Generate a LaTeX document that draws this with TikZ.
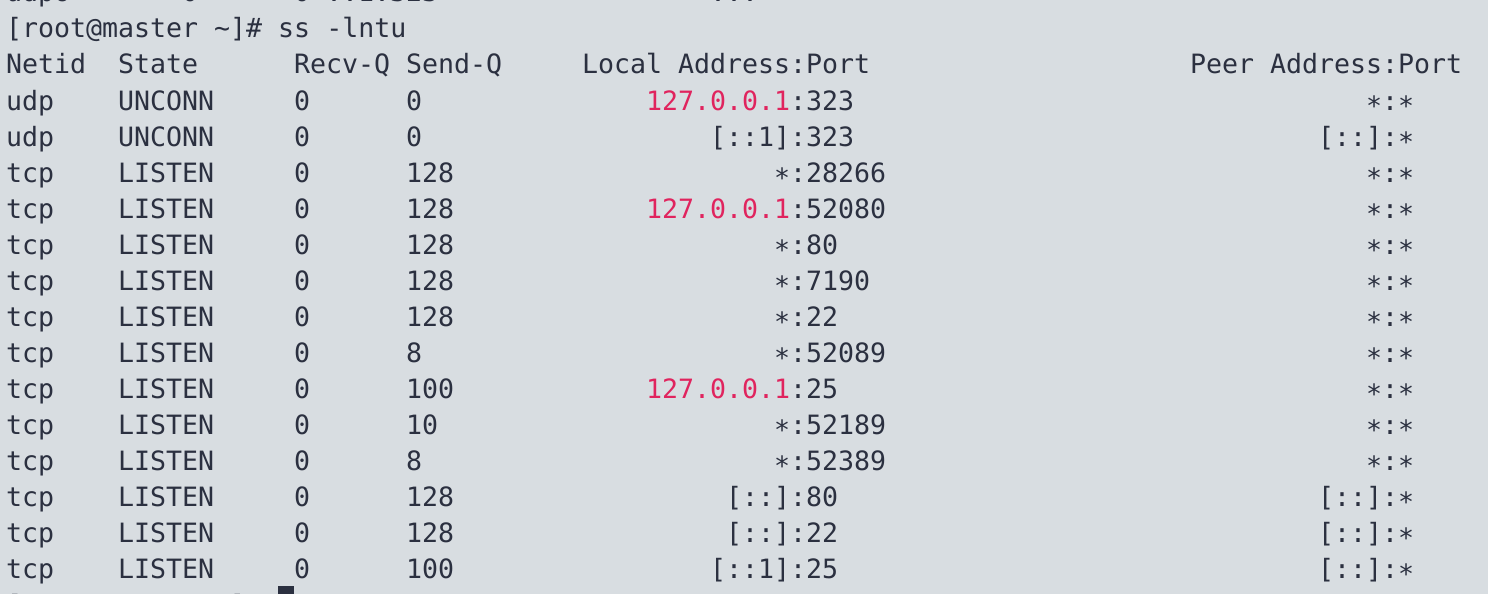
\documentclass[tikz,border=0pt]{standalone}
\usepackage{fontspec}
\setmonofont{DejaVu Sans Mono}
\definecolor{termbg}{HTML}{D8DDE1}
\definecolor{termfg}{HTML}{2B3040}
\definecolor{termred}{HTML}{E0245E}
\newcommand\sstar{\raisebox{-0.2em}{*}}
\newcommand\rip{\textcolor{termred}{127.0.0.1}}
\tikzset{
  txt/.style={anchor=base west, inner sep=0pt, outer sep=0pt, text=termfg,
    font=\ttfamily\fontsize{26.6}{36}\selectfont},
}
\begin{document}
\begin{tikzpicture}[x=1pt,y=-1pt]
\useasboundingbox (0,0) rectangle (1488,594);
\clip (0,0) rectangle (1488,594);
\fill[termbg] (0,0) rectangle (1488,594);
\def\ox{6}
\def\cw{16}
% partial line at the top
\node[txt] (p0) at ({\ox+0*\cw},2) {udp6};
\node[txt] (p1) at ({\ox+11*\cw},2) {0};
\node[txt] (p2) at ({\ox+18*\cw},2) {0};
\node[txt] (p3) at ({\ox+20*\cw},2) {::1:323};
\node[txt] (p4) at ({\ox+44*\cw},2) {:::*};
% command
\node[txt] (cmd) at ({\ox},38) {[root@master \textasciitilde]\# ss -lntu};
% header
\node[txt] (h1) at ({\ox+0*\cw},74) {Netid};
\node[txt] (h2) at ({\ox+7*\cw},74) {State};
\node[txt] (h3) at ({\ox+18*\cw},74) {Recv-Q};
\node[txt] (h4) at ({\ox+25*\cw},74) {Send-Q};
\node[txt] (h5) at ({\ox+36*\cw},74) {Local Address:Port};
\node[txt] (h6) at ({\ox+74*\cw},74) {Peer Address:Port};
% rows
\foreach \k/\net/\st/\rq/\sq/\lc/\la/\pc/\pa in {
  0/udp/UNCONN/0/0/40/\rip:323/85/\sstar:\sstar,
  1/udp/UNCONN/0/0/44/[::1]:323/82/[::]:\sstar,
  2/tcp/LISTEN/0/128/48/\sstar:28266/85/\sstar:\sstar,
  3/tcp/LISTEN/0/128/40/\rip:52080/85/\sstar:\sstar,
  4/tcp/LISTEN/0/128/48/\sstar:80/85/\sstar:\sstar,
  5/tcp/LISTEN/0/128/48/\sstar:7190/85/\sstar:\sstar,
  6/tcp/LISTEN/0/128/48/\sstar:22/85/\sstar:\sstar,
  7/tcp/LISTEN/0/8/48/\sstar:52089/85/\sstar:\sstar,
  8/tcp/LISTEN/0/100/40/\rip:25/85/\sstar:\sstar,
  9/tcp/LISTEN/0/10/48/\sstar:52189/85/\sstar:\sstar,
  10/tcp/LISTEN/0/8/48/\sstar:52389/85/\sstar:\sstar,
  11/tcp/LISTEN/0/128/45/[::]:80/82/[::]:\sstar,
  12/tcp/LISTEN/0/128/45/[::]:22/82/[::]:\sstar,
  13/tcp/LISTEN/0/100/44/[::1]:25/82/[::]:\sstar}{
  \pgfmathsetmacro\yy{110+36*\k}
  \node[txt] (r\k-net) at ({\ox+0*\cw},\yy) {\net};
  \node[txt] (r\k-st) at ({\ox+7*\cw},\yy) {\st};
  \node[txt] (r\k-rq) at ({\ox+18*\cw},\yy) {\rq};
  \node[txt] (r\k-sq) at ({\ox+25*\cw},\yy) {\sq};
  \node[txt] (r\k-la) at ({\ox+\lc*\cw},\yy) {\la};
  \node[txt] (r\k-pa) at ({\ox+\pc*\cw},\yy) {\pa};
}
% next prompt (cut off) and cursor
\node[txt] (prompt) at ({\ox},614) {[root@master \textasciitilde]\#};
\fill[termfg] ({\ox+17*\cw},586) rectangle ({\ox+18*\cw},620);
\end{tikzpicture}
\end{document}
